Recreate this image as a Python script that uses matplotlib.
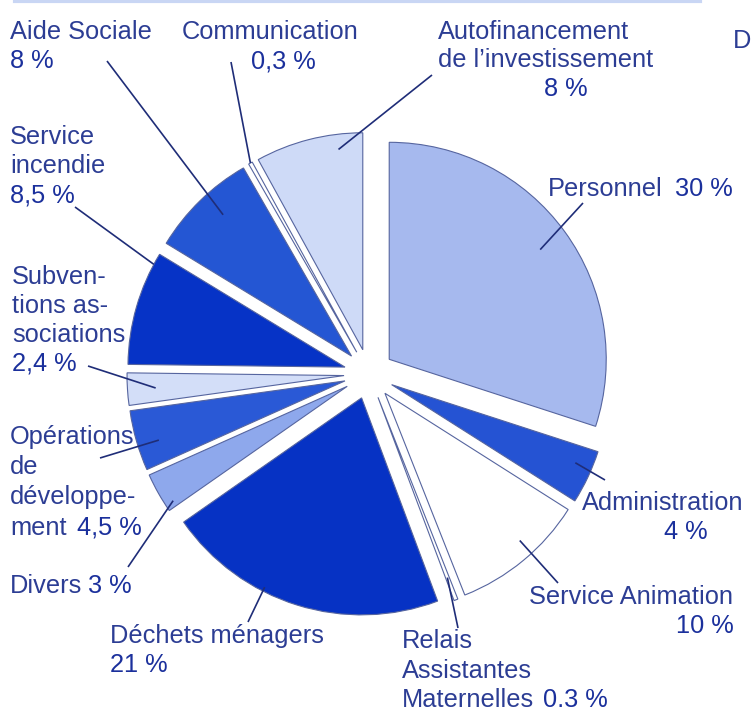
import matplotlib.pyplot as plt
import numpy as np

plt.rcParams['font.family'] = ['Liberation Sans', 'DejaVu Sans']

# répartition des dépenses (%)
postes = ['Personnel', 'Administration', 'Service Animation',
          'Relais Assistantes Maternelles', 'Déchets ménagers', 'Divers',
          'Opérations de développement', 'Subventions associations',
          'Service incendie', 'Aide Sociale', 'Communication',
          'Autofinancement de l’investissement']
parts = [30, 4, 10, 0.3, 21, 3, 4.5, 2.4, 8.5, 8, 0.3, 8]
pct_txt = ['30 %', '4 %', '10 %', '0.3 %', '21 %', '3 %', '4,5 %', '2,4 %',
           '8,5 %', '8 %', '0,3 %', '8 %']
colors = ['#a6b9ee', '#2553d3', '#ffffff', '#ffffff', '#0632c4', '#8ea8ec',
          '#2a59d6', '#d3def8', '#0633c6', '#2456d3', '#ffffff', '#cedaf7']

W, H = 752, 711
NAME_C = '#2c3d94'
PCT_C = '#1b309c'
LINE_C = '#1f2d78'
FS = 18.3

# texte de chaque étiquette: lignes (texte, x, y image), pct (x, y, ha),
# fin du trait coté texte, ancrage dans la part (fraction d'angle, fraction de rayon)
layout = [
    ([('Personnel', 548, 196)], (675, 196, 'left'), (583, 203), (0.5, 0.86)),
    ([('Administration', 582, 510)], (686, 539, 'center'), (605, 480), (0.65, 0.92)),
    ([('Service Animation', 529, 604)], (734, 633, 'right'), (558, 583), (0.58, 0.92)),
    ([('Relais', 402, 648), ('Assistantes', 402, 678), ('Maternelles', 402, 707)],
     (543, 707, 'left'), (458, 628), (0.5, 0.89)),
    ([('Déchets ménagers', 110, 643)], (110, 672, 'left'), (248, 622), (0.37, 0.98)),
    ([('Divers', 10, 593)], (88, 593, 'left'), (128, 567), (0.85, 0.96)),
    ([('Opérations', 10, 444), ('de', 10, 474), ('développe-', 10, 504), ('ment', 10, 535)],
     (77, 535, 'left'), (100, 458), (0.6, 0.9)),
    ([('Subven-', 12, 284), ('tions as-', 12, 313), ('sociations', 12, 342)],
     (12, 371, 'left'), (88, 366), (0.52, 0.87)),
    ([('Service', 10, 144), ('incendie', 10, 173)], (10, 202, 'left'), (75, 207), (0.1, 1.0)),
    ([('Aide Sociale', 10, 39)], (10, 68, 'left'), (107, 61), (0.43, 0.88)),
    ([('Communication', 182, 39)], (283, 68, 'center'), (231, 62), (0.5, 1.0)),
    ([('Autofinancement', 438, 39), ('de l’investissement', 438, 67)],
     (566, 96, 'center'), (432, 75), (0.24, 0.93)),
]

fig = plt.figure(figsize=(W / 100, H / 100), dpi=100)
ax = fig.add_axes([0, 0, 1, 1])

wedges, _ = ax.pie(parts, colors=colors, startangle=90, counterclock=False,
                   center=(369, H - 374), radius=217, explode=[25] * len(parts),
                   wedgeprops=dict(edgecolor='#56659f', linewidth=0.8))

ax.set_xlim(0, W)
ax.set_ylim(0, H)
ax.set_aspect('auto')
ax.axis('off')

for i, (w, (lines, pct, end, anc)) in enumerate(zip(wedges, layout)):
    for txt, x, y in lines:
        ax.text(x, H - y, txt, color=NAME_C, fontsize=FS, ha='left', va='baseline')
    px, py, ha = pct
    ax.text(px, H - py, pct_txt[i], color=PCT_C, fontsize=FS, ha=ha, va='baseline')
    th = np.radians(w.theta1 + anc[0] * (w.theta2 - w.theta1))
    ax_x = w.center[0] + anc[1] * w.r * np.cos(th)
    ax_y = w.center[1] + anc[1] * w.r * np.sin(th)
    ax.plot([end[0], ax_x], [H - end[1], ax_y], color=LINE_C, lw=1.2,
            solid_capstyle='butt')

# bord de la page (lettre coupée à droite dans l'original)
ax.text(733, H - 48, 'D', color=NAME_C, fontsize=FS, ha='left', va='baseline')
ax.plot([15, 700], [H - 1, H - 1], color='#c9d6f4', lw=3)

fig.savefig('out.png', dpi=100)
